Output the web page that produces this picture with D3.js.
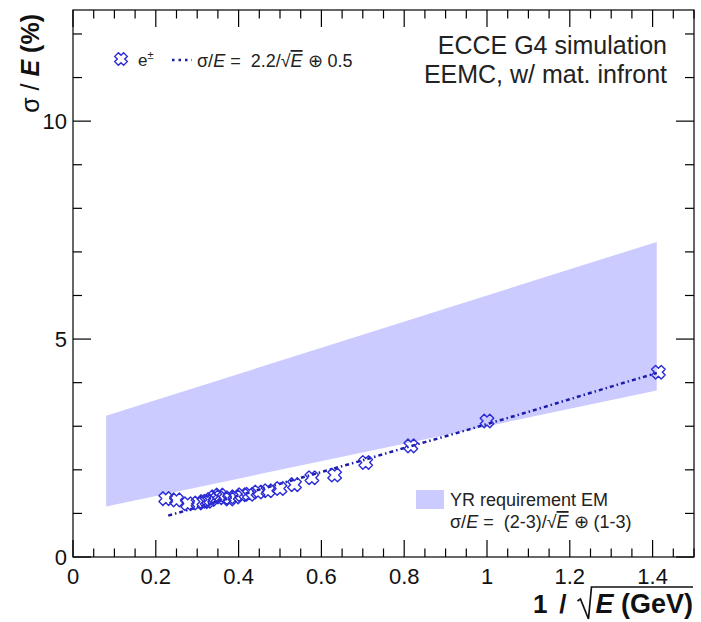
<!DOCTYPE html>
<html>
<head>
<meta charset="utf-8">
<script src="https://d3js.org/d3.v7.min.js"></script>
<style>
  body { margin: 0; background: #fff; }
  text { font-family: "Liberation Sans", Arial, sans-serif; }
</style>
</head>
<body>
<svg id="chart" width="701" height="622"></svg>
<script>
// e+- resolution points (x = 1/sqrt(E), y = sigma/E in %)
const ptX = [0.224, 0.25, 0.277, 0.302, 0.316, 0.324, 0.333, 0.343, 0.354, 0.365, 0.378, 0.392,
             0.408, 0.426, 0.447, 0.471, 0.5, 0.535, 0.577, 0.632, 0.707, 0.816, 1.0, 1.414];
const ptY = [1.34, 1.31, 1.22, 1.24, 1.27, 1.28, 1.32, 1.38, 1.42, 1.36, 1.33, 1.38,
             1.43, 1.44, 1.49, 1.52, 1.57, 1.66, 1.82, 1.88, 2.17, 2.55, 3.12, 4.24];

// fit curve
const fitX = [0.23, 0.3, 0.4, 0.5, 0.6, 0.7, 0.8, 0.9, 1.0, 1.1, 1.2, 1.3, 1.41];
const fitY = [0.95, 1.14, 1.41, 1.68, 1.95, 2.22, 2.5, 2.77, 3.05, 3.33, 3.62, 3.91, 4.22];

// YR requirement band edges
const bandX = [0.08, 1.41];
const bandLo = [1.16, 3.82];
const bandHi = [3.24, 7.23];

const xTicks = [0, 0.2, 0.4, 0.6, 0.8, 1, 1.2, 1.4];
const yTicks = [0, 5, 10];

const svg = d3.select("#chart");
const L = 73, R = 694, T = 10, B = 557;

const x = d3.scaleLinear().domain([0, 1.5]).range([L, R]);
const y = d3.scaleLinear().domain([0, 12.55]).range([B, T]);

// band
const band = bandX.map((v, i) => ({x: v, lo: bandLo[i], hi: bandHi[i]}));
svg.append("path")
  .datum(band)
  .attr("fill", "#cbcbff")
  .attr("d", d3.area().x(d => x(d.x)).y0(d => y(d.lo)).y1(d => y(d.hi)));

// fit line
svg.append("path")
  .datum(fitX.map((v, i) => [v, fitY[i]]))
  .attr("fill", "none")
  .attr("stroke", "#1c1ca8")
  .attr("stroke-width", 2.5)
  .attr("stroke-dasharray", "4,3,1.5,3")
  .attr("d", d3.line().x(d => x(d[0])).y(d => y(d[1])).curve(d3.curveMonotoneX));

// open X marker
function xMarker(a, w) {
  const pts = [[w, w], [a, w], [a, -w], [w, -w], [w, -a], [-w, -a], [-w, -w], [-a, -w], [-a, w], [-w, w], [-w, a], [w, a]];
  const r = Math.SQRT1_2;
  return "M" + pts.map(p => [(p[0] - p[1]) * r, (p[0] + p[1]) * r].map(v => v.toFixed(2)).join(",")).join("L") + "Z";
}
const mk = xMarker(6.8, 2.8);

svg.append("g").selectAll("path")
  .data(ptX.map((v, i) => [v, ptY[i]]))
  .join("path")
  .attr("transform", d => `translate(${x(d[0])},${y(d[1])})`)
  .attr("d", mk)
  .attr("fill", "none")
  .attr("stroke", "#2b2bd6")
  .attr("stroke-width", 1.4)
  .attr("stroke-linejoin", "round");

// frame and ticks
const axisG = svg.append("g").attr("stroke", "#000").attr("stroke-width", 1.2);
axisG.append("rect").attr("x", L).attr("y", T).attr("width", R - L).attr("height", B - T).attr("fill", "none");

d3.range(0, 1.5001, 0.05).forEach(v => {
  const major = Math.abs(v / 0.2 - Math.round(v / 0.2)) < 1e-6;
  const len = major ? 17 : 8.5;
  axisG.append("line").attr("x1", x(v)).attr("x2", x(v)).attr("y1", B).attr("y2", B - len);
  axisG.append("line").attr("x1", x(v)).attr("x2", x(v)).attr("y1", T).attr("y2", T + len);
});
d3.range(0, 12.01, 1).forEach(v => {
  const len = v % 5 === 0 ? 18 : 9;
  axisG.append("line").attr("y1", y(v)).attr("y2", y(v)).attr("x1", L).attr("x2", L + len);
  axisG.append("line").attr("y1", y(v)).attr("y2", y(v)).attr("x1", R).attr("x2", R - len);
});

// tick labels
svg.append("g").selectAll("text")
  .data(xTicks).join("text")
  .attr("x", d => x(d)).attr("y", 584)
  .attr("text-anchor", "middle")
  .attr("font-size", 22)
  .attr("fill", "#111")
  .text(d => d);
svg.append("g").selectAll("text")
  .data(yTicks).join("text")
  .attr("x", 67).attr("y", d => y(d) + 8)
  .attr("text-anchor", "end")
  .attr("font-size", 22)
  .attr("fill", "#111")
  .text(d => d);

// y title
const yt = svg.append("text")
  .attr("transform", "translate(39,14) rotate(-90)")
  .attr("text-anchor", "end")
  .attr("font-size", 25)
  .attr("fill", "#111");
yt.append("tspan").text("σ / ");
yt.append("tspan").attr("font-weight", "bold").attr("font-style", "italic").text("E");
yt.append("tspan").attr("font-weight", "bold").text(" (%)");

// x title: 1 / sqrt(E) (GeV)
const xt = svg.append("g").attr("fill", "#111");
const xt2 = xt.append("text").attr("x", 693).attr("y", 613).attr("font-size", 27).attr("font-weight", "bold").attr("text-anchor", "end");
xt2.append("tspan").attr("font-style", "italic").text("E");
xt2.append("tspan").text(" (GeV)");
const eStart = 693 - xt2.node().getComputedTextLength();
const rx = eStart - 4;
xt.append("path")
  .attr("d", `M${rx - 14},${601} L${rx - 11},${599} L${rx - 3},${619} L${rx},${587} L693,587`)
  .attr("fill", "none").attr("stroke", "#111").attr("stroke-width", 1.7);
xt.append("text").attr("x", rx - 25).attr("y", 613).attr("font-size", 26).attr("font-weight", "bold")
  .attr("text-anchor", "end").text("/");
xt.append("text").attr("x", rx - 44).attr("y", 613).attr("font-size", 26).attr("font-weight", "bold")
  .attr("text-anchor", "end").text("1");

// top right label
svg.append("text").attr("x", 667).attr("y", 54).attr("text-anchor", "end").attr("font-size", 25).attr("fill", "#222").text("ECCE G4 simulation");
svg.append("text").attr("x", 667).attr("y", 83).attr("text-anchor", "end").attr("font-size", 25).attr("fill", "#222").text("EEMC, w/ mat. infront");

// top legend
svg.append("path").attr("transform", "translate(121,59)").attr("d", xMarker(6.3, 2.6))
  .attr("fill", "none").attr("stroke", "#2b2bd6").attr("stroke-width", 1.4);
const e1 = svg.append("text").attr("x", 138).attr("y", 66).attr("font-size", 17).attr("fill", "#222");
e1.append("tspan").text("e");
e1.append("tspan").attr("font-size", 11).attr("dy", -7).text("±");
svg.append("line").attr("x1", 172).attr("x2", 192).attr("y1", 60).attr("y2", 60)
  .attr("stroke", "#1c1ca8").attr("stroke-width", 2.5).attr("stroke-dasharray", "2.5,4");
const f1 = svg.append("text").attr("x", 197).attr("y", 67).attr("font-size", 18).attr("fill", "#222")
  .style("white-space", "pre");
f1.append("tspan").text("σ/");
f1.append("tspan").attr("font-style", "italic").text("E");
f1.append("tspan").text(" =  2.2/√");
f1.append("tspan").attr("font-style", "italic").attr("text-decoration", "overline").text("E");
f1.append("tspan").text(" ⊕ 0.5");

// bottom legend
svg.append("rect").attr("x", 416).attr("y", 490).attr("width", 28).attr("height", 19).attr("fill", "#cbcbff");
svg.append("text").attr("x", 450).attr("y", 506).attr("font-size", 18).attr("fill", "#222").text("YR requirement EM");
const f2 = svg.append("text").attr("x", 450).attr("y", 528).attr("font-size", 18).attr("fill", "#222")
  .style("white-space", "pre");
f2.append("tspan").text("σ/");
f2.append("tspan").attr("font-style", "italic").text("E");
f2.append("tspan").text(" =  (2-3)/√");
f2.append("tspan").attr("font-style", "italic").attr("text-decoration", "overline").text("E");
f2.append("tspan").text(" ⊕ (1-3)");
</script>
</body>
</html>
